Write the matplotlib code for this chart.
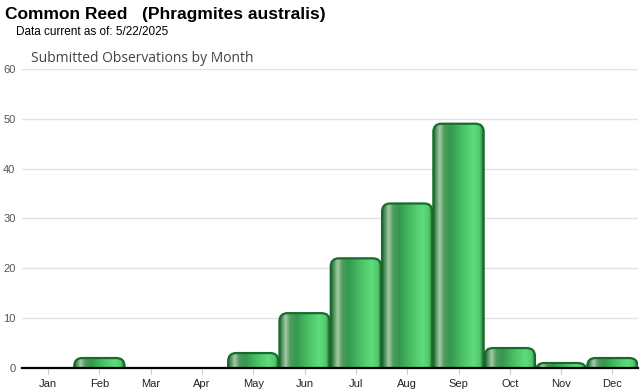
import numpy as np
import matplotlib.pyplot as plt
from matplotlib.colors import LinearSegmentedColormap
from matplotlib.patches import FancyBboxPatch

months = ['Jan', 'Feb', 'Mar', 'Apr', 'May', 'Jun', 'Jul', 'Aug', 'Sep', 'Oct', 'Nov', 'Dec']
counts = [0, 2, 0, 0, 3, 11, 22, 33, 49, 4, 1, 2]
y_ticks = [0, 10, 20, 30, 40, 50, 60]

plt.rcParams['font.family'] = ['Liberation Sans', 'DejaVu Sans']

# horizontal shading across each bar
bar_cmap = LinearSegmentedColormap.from_list('bar', [
    (0.00, '#1f6a32'),
    (0.05, '#4a8f58'),
    (0.13, '#a6c9a8'),
    (0.22, '#4f9c5c'),
    (0.34, '#34994e'),
    (0.60, '#4cc468'),
    (0.80, '#5fdc7b'),
    (0.92, '#52c86c'),
    (1.00, '#1f6a32'),
])
grad = np.linspace(0, 1, 256).reshape(1, -1)

fig = plt.figure(figsize=(6.4, 3.9), dpi=100)
ax = fig.add_axes([0.035, 0.0564, 0.962, 0.767])

x = np.arange(len(months))
ax.set_xlim(-0.5, len(months) - 0.5)
ax.set_ylim(0, 60)

for xi, val in zip(x, counts):
    if val <= 0:
        continue
    left, right = xi - 0.49, xi + 0.49
    patch = FancyBboxPatch((left, -2), right - left, val + 2,
                           boxstyle='round,pad=0,rounding_size=0.16',
                           mutation_aspect=10.2,
                           facecolor='none', edgecolor='#186b2c',
                           linewidth=1.6, zorder=3)
    ax.add_patch(patch)
    im = ax.imshow(grad, cmap=bar_cmap, aspect='auto',
                   extent=(left, right, 0, val), zorder=2)
    im.set_clip_path(patch)

ax.set_yticks(y_ticks)
ax.yaxis.grid(True, color='#e2e2e2', linewidth=1)
ax.set_axisbelow(True)
ax.set_xticks(x)
ax.set_xticklabels(months)
ax.tick_params(axis='x', length=4, color='#cccccc', labelsize=8, colors='#333333', pad=4)
ax.tick_params(axis='y', length=0, labelsize=8, labelcolor='#555555', pad=5)
for lbl in ax.get_xticklabels():
    lbl.set_color('#222222')
for side in ['top', 'right', 'left']:
    ax.spines[side].set_visible(False)
ax.spines['bottom'].set_color('black')
ax.spines['bottom'].set_linewidth(1.6)
ax.spines['bottom'].set_zorder(4)

fig.text(5 / 640, 1 - 15 / 390, 'Common Reed   (Phragmites australis)',
         fontsize=12.5, fontweight='bold', va='center', ha='left')
fig.text(16 / 640, 1 - 32 / 390, 'Data current as of: 5/22/2025',
         fontsize=8.5, va='center', ha='left')
fig.text(31 / 640, 1 - 58 / 390, 'Submitted Observations by Month',
         fontsize=10, va='center', ha='left', color='#444444',
         family=['Open Sans', 'DejaVu Sans'])

fig.savefig('out.png', dpi=100)
